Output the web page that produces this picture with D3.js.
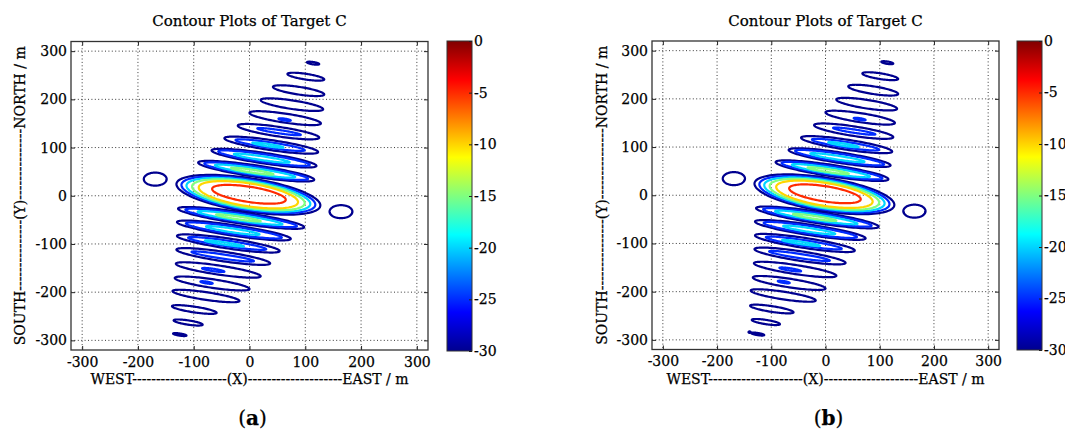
<!DOCTYPE html>
<html>
<head>
<meta charset="utf-8">
<script src="https://cdn.jsdelivr.net/npm/d3@7"></script>
<style>
    body { margin: 0; background: #fff; }
    text { font-family: "DejaVu Serif", serif; fill: #000; stroke: #000; stroke-width: 0.25px; }
</style>
</head>
<body>
<div id="chart"></div>
<script>
var chartTitle = 'Contour Plots of Target C';
var xLabel = 'WEST--------------------(X)--------------------EAST / m';
var yLabel = 'SOUTH---------------(Y)---------------NORTH / m';

var xTicks = [ -300, -200, -100, 0, 100, 200, 300 ];
var yTicks = [ -300, -200, -100, 0, 100, 200, 300 ];
var barTicks = [ 0, -5, -10, -15, -20, -25, -30 ];

// jet colour map over the colour bar range (dB)
var jetStops = [ [ -30, '#00008f' ], [ -26.25, '#0000ff' ], [ -18.75, '#00ffff' ],
                 [ -11.25, '#ffff00' ], [ -3.75, '#ff0000' ], [ 0, '#800000' ] ];

// rings: [centre x, centre y, half length, half width, level]  (metres, dB)
var mainLobe = [
    [ -2, 2, 129, 35, -30 ],
    [ -2, 2, 120, 32, -25 ],
    [ -2, 2, 111, 29.5, -20 ],
    [ -2, 2, 101, 27, -15 ],
    [ -2, 2, 89, 24, -10 ],
    [ -1, 3, 66, 16, -5 ]
];

var northLobes = [
    [ 114, 275, 11, 2.5, -30 ],
    [ 101, 247, 33, 6, -30 ],
    [ 88, 218, 46, 8, -30 ],
    [ 76, 189, 56, 9, -30 ],
    [ 64, 161, 64, 9.5, -30 ],
    [ 63, 158, 11, 2, -25 ],
    [ 52, 133, 73, 10, -30 ],
    [ 53, 133, 39, 3.5, -25 ],
    [ 39, 105, 84, 10.5, -30 ],
    [ 37, 105, 62, 6, -25 ],
    [ 33, 105, 28, 2.5, -20 ],
    [ 26, 78, 94, 11, -30 ],
    [ 26, 78, 82, 8, -25 ],
    [ 22, 78, 50, 4, -20 ],
    [ 12, 51, 104, 12, -30 ],
    [ 12, 51, 93, 9, -25 ],
    [ 10, 51, 72, 6, -20 ],
    [ 5, 51, 38, 3, -15 ]
];

var southLobes = [
    [ -15, -46, 113, 12, -30 ],
    [ -15, -46, 100, 9, -25 ],
    [ -17, -46, 76, 6, -20 ],
    [ -20, -46, 40, 3, -15 ],
    [ -28, -72, 102, 11, -30 ],
    [ -28, -72, 86, 8, -25 ],
    [ -30, -72, 48, 4, -20 ],
    [ -38, -99, 92, 10.5, -30 ],
    [ -40, -99, 70, 6, -25 ],
    [ -45, -99, 35, 2.5, -20 ],
    [ -47, -126, 84, 10, -30 ],
    [ -48, -126, 56, 4.5, -25 ],
    [ -56, -154, 76, 9.5, -30 ],
    [ -65, -154, 20, 2.5, -25 ],
    [ -67, -182, 67, 9, -30 ],
    [ -77, -180, 11, 2, -25 ],
    [ -78, -208, 60, 8, -30 ],
    [ -99, -236, 40, 6, -30 ],
    [ -110, -263, 26, 4.5, -30 ],
    [ -125, -288, 12, 2.3, -30 ]
];

var sideBlobs = [
    [ -169, 34.5, 20.5, 13.5, -30 ],
    [ 164, -33, 20.5, 13.5, -30 ]
];

var extraB = [
    [ -140, -284, 2, 1.5, -30 ]
];

var lobeTilt = -0.17;

var panels = [
    { id: 'a', left: 71, right: 428, top: 41.5, bottom: 350, bar: [ 447, 41, 472, 351 ], yLabelX: 20, extra: [] },
    { id: 'b', left: 652, right: 999, top: 41, bottom: 349.5, bar: [ 1017, 41, 1042, 350 ], yLabelX: 601.5, extra: extraB }
];

var svg = d3.select('#chart').append('svg')
    .attr('width', 1065).attr('height', 432);

var defs = svg.append('defs');

var jet = d3.scaleLinear()
    .domain(jetStops.map(function(s) { return s[0]; }))
    .range(jetStops.map(function(s) { return s[1]; }))
    .interpolate(d3.interpolateRgb);

function drawPanel(p) {
    var x = d3.scaleLinear().domain([ -320, 320 ]).range([ p.left, p.right ]);
    var y = d3.scaleLinear().domain([ -320, 320 ]).range([ p.bottom, p.top ]);
    var cx = (p.left + p.right) / 2;
    var g = svg.append('g').attr('id', 'panel-' + p.id);

    defs.append('clipPath').attr('id', 'clip-' + p.id)
        .append('rect')
        .attr('x', p.left).attr('y', p.top)
        .attr('width', p.right - p.left).attr('height', p.bottom - p.top);

    // dotted grid
    g.selectAll('.gx').data(xTicks).enter().append('line')
        .attr('x1', function(d) { return x(d); }).attr('x2', function(d) { return x(d); })
        .attr('y1', p.top).attr('y2', p.bottom)
        .attr('stroke', '#222').attr('stroke-width', 0.9)
        .attr('stroke-dasharray', '1,2.4');
    g.selectAll('.gy').data(yTicks).enter().append('line')
        .attr('y1', function(d) { return y(d); }).attr('y2', function(d) { return y(d); })
        .attr('x1', p.left).attr('x2', p.right)
        .attr('stroke', '#222').attr('stroke-width', 0.9)
        .attr('stroke-dasharray', '1,2.4');

    var line = d3.line().curve(d3.curveLinearClosed);
    var angles = d3.range(0, 360, 3);

    function ring(r, tilt) {
        return line(angles.map(function(deg) {
            var t = deg * Math.PI / 180;
            var c = Math.cos(t), s = Math.sin(t);
            return [ x(r[0] + r[2] * c), y(r[1] + r[3] * s + tilt * r[2] * c) ];
        }));
    }

    var rings = g.append('g').attr('clip-path', 'url(#clip-' + p.id + ')')
        .attr('fill', 'none').attr('stroke-width', 2.2).attr('stroke-linejoin', 'round');

    [ [ mainLobe, lobeTilt ], [ northLobes, lobeTilt ], [ southLobes, lobeTilt ],
      [ sideBlobs, 0 ], [ p.extra, 0 ] ].forEach(function(set) {
        rings.selectAll(null).data(set[0]).enter().append('path')
            .attr('d', function(r) { return ring(r, set[1]); })
            .attr('stroke', function(r) { return jet(r[4]); });
    });

    // ticks inside on all four sides
    var fontFamily = '"DejaVu Serif", serif';
    var bottomAxis = g.append('g').attr('transform', 'translate(0,' + p.bottom + ')')
        .call(d3.axisBottom(x).tickValues(xTicks).tickSize(-4).tickPadding(7)
              .tickFormat(function(d) { return d; }));
    var topAxis = g.append('g').attr('transform', 'translate(0,' + p.top + ')')
        .call(d3.axisTop(x).tickValues(xTicks).tickSize(-4).tickFormat(''));
    var leftAxis = g.append('g').attr('transform', 'translate(' + p.left + ',0)')
        .call(d3.axisLeft(y).tickValues(yTicks).tickSize(-4).tickPadding(4)
              .tickFormat(function(d) { return d; }));
    var rightAxis = g.append('g').attr('transform', 'translate(' + p.right + ',0)')
        .call(d3.axisRight(y).tickValues(yTicks).tickSize(-4).tickFormat(''));
    [ bottomAxis, topAxis, leftAxis, rightAxis ].forEach(function(a) {
        a.attr('font-family', fontFamily).attr('font-size', 14);
        a.select('.domain').remove();
        a.selectAll('.tick line').attr('stroke', '#222');
    });

    g.append('rect')
        .attr('x', p.left).attr('y', p.top)
        .attr('width', p.right - p.left).attr('height', p.bottom - p.top)
        .attr('fill', 'none').attr('stroke', '#333').attr('stroke-width', 1.3);

    // colour bar
    var bar = p.bar;
    var barScale = d3.scaleLinear().domain([ -30, 0 ]).range([ bar[3], bar[1] ]);
    var grad = defs.append('linearGradient').attr('id', 'jet-' + p.id)
        .attr('x1', 0).attr('y1', 1).attr('x2', 0).attr('y2', 0);
    grad.selectAll('stop').data(jetStops).enter().append('stop')
        .attr('offset', function(s) { return (s[0] + 30) / 30; })
        .attr('stop-color', function(s) { return s[1]; });
    g.append('rect')
        .attr('x', bar[0]).attr('y', bar[1])
        .attr('width', bar[2] - bar[0]).attr('height', bar[3] - bar[1])
        .attr('fill', 'url(#jet-' + p.id + ')')
        .attr('stroke', '#333').attr('stroke-width', 1);
    var barAxis = g.append('g').attr('transform', 'translate(' + bar[2] + ',0)')
        .call(d3.axisRight(barScale).tickValues(barTicks).tickSize(-3).tickPadding(2)
              .tickFormat(function(d) { return d; }));
    barAxis.attr('font-family', fontFamily).attr('font-size', 14);
    barAxis.select('.domain').remove();
    barAxis.selectAll('.tick line').attr('stroke', '#222');

    // titles
    g.append('text').attr('x', cx).attr('y', 26)
        .attr('text-anchor', 'middle').attr('font-size', 15)
        .text(chartTitle);
    g.append('text').attr('x', cx).attr('y', 384)
        .attr('text-anchor', 'middle').attr('font-size', 14)
        .text(xLabel);
    g.append('text')
        .attr('transform', 'translate(' + (p.yLabelX + 5) + ',' + ((p.top + p.bottom) / 2) + ') rotate(-90)')
        .attr('text-anchor', 'middle').attr('font-size', 14)
        .text(yLabel);

    var tag = g.append('text').attr('x', cx + 3).attr('y', 425)
        .attr('text-anchor', 'middle').attr('font-size', 20);
    tag.append('tspan').text('(');
    tag.append('tspan').attr('font-weight', 'bold').text(p.id);
    tag.append('tspan').text(')');
}

panels.forEach(drawPanel);
</script>
</body>
</html>
